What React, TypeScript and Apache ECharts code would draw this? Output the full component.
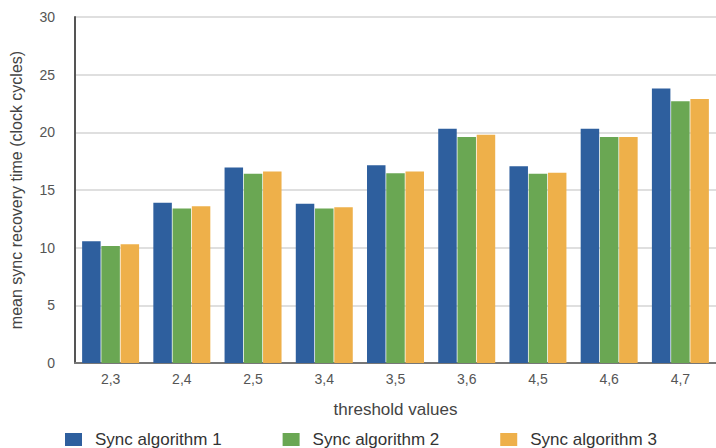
import React, { useEffect, useRef } from "react";
import * as echarts from "echarts";

const categories = ["2,3", "2,4", "2,5", "3,4", "3,5", "3,6", "4,5", "4,6", "4,7"];
const seriesNames = ["Sync algorithm 1", "Sync algorithm 2", "Sync algorithm 3"];
const algo1 = [10.55, 13.9, 16.95, 13.8, 17.15, 20.3, 17.05, 20.3, 23.8];
const algo2 = [10.15, 13.4, 16.4, 13.4, 16.45, 19.6, 16.4, 19.6, 22.7];
const algo3 = [10.3, 13.6, 16.6, 13.5, 16.6, 19.8, 16.5, 19.6, 22.9];
const colors = ["#2e5f9e", "#6aa753", "#eeb04a"];

export default function App() {
  const ref = useRef<HTMLDivElement>(null);
  useEffect(() => {
    if (!ref.current) return;
    const chart = echarts.init(ref.current, null, { renderer: "svg" });
    const font = "'Liberation Sans', Arial, Helvetica, sans-serif";
    const data = [algo1, algo2, algo3];
    chart.setOption({
      animation: false,
      textStyle: { fontFamily: font },
      grid: { left: 70, top: 17, width: 652, height: 346, containLabel: false },
      legend: {
        left: 65,
        top: 431,
        padding: 0,
        itemWidth: 17,
        itemHeight: 13,
        itemGap: 61,
        icon: "rect",
        textStyle: { fontSize: 17, color: "#333", fontFamily: font, padding: [0, 0, 0, 8] },
        data: seriesNames,
      },
      xAxis: {
        type: "category",
        data: categories,
        name: "threshold values",
        nameLocation: "middle",
        nameGap: 38,
        nameTextStyle: { fontSize: 17, color: "#444" },
        axisLine: { lineStyle: { color: "#777", width: 2 } },
        axisTick: { show: false },
        axisLabel: { fontSize: 14, color: "#555", margin: 9 },
      },
      yAxis: {
        type: "value",
        min: 0,
        max: 30,
        interval: 5,
        name: "mean sync recovery time (clock cycles)",
        nameLocation: "middle",
        nameGap: 51,
        nameRotate: 90,
        nameTextStyle: { fontSize: 16, color: "#444" },
        axisLine: { show: true, lineStyle: { color: "#555", width: 2 } },
        axisTick: { show: false },
        axisLabel: { fontSize: 14, color: "#555", margin: 20 },
        splitLine: { lineStyle: { color: "#d4d4d4", width: 1.5 } },
      },
      series: seriesNames.map((name, i) => ({
        name,
        type: "bar",
        data: data[i],
        barWidth: 18.5,
        barGap: "4%",
        itemStyle: { color: colors[i] },
      })),
    });
    return () => chart.dispose();
  }, []);
  return <div ref={ref} style={{ width: 716, height: 448, position: "absolute", left: 0, top: 0 }} />;
}
